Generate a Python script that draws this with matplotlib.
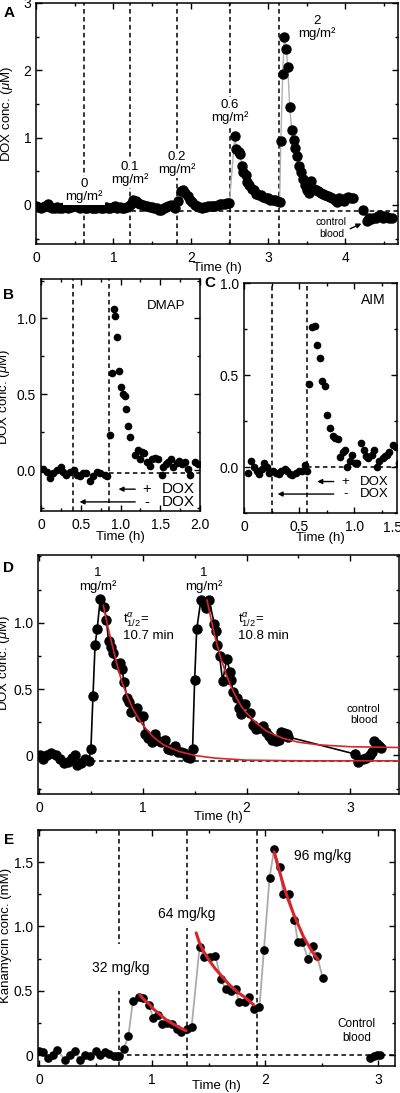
import matplotlib.pyplot as plt
from matplotlib.ticker import MultipleLocator

plt.rcParams['font.family'] = ['Liberation Sans', 'DejaVu Sans']
plt.rcParams['mathtext.fontset'] = 'custom'
plt.rcParams['mathtext.rm'] = 'Liberation Sans'
plt.rcParams['mathtext.it'] = 'Liberation Sans:italic'

# ---------------- panel A : DOX, escalating doses ----------------
a_t = [0.00, 0.03, 0.06, 0.09, 0.12, 0.15, 0.18, 0.21, 0.24, 0.27, 0.30, 0.33, 0.36, 0.39,
       0.42, 0.45, 0.48, 0.51, 0.54, 0.57, 0.60, 0.63, 0.66, 0.69, 0.72, 0.75, 0.78, 0.81,
       0.84, 0.87, 0.90, 0.93, 0.96, 0.99, 1.02, 1.05, 1.08, 1.11, 1.14, 1.17,
       1.20, 1.23, 1.26, 1.29, 1.32, 1.35, 1.38, 1.41, 1.44, 1.47, 1.50, 1.53, 1.56, 1.59,
       1.62, 1.65, 1.68, 1.71, 1.74, 1.77, 1.80,
       1.84, 1.87, 1.90, 1.93, 1.96, 1.99, 2.02, 2.05, 2.08, 2.11, 2.14, 2.17, 2.20, 2.23,
       2.26, 2.29, 2.32, 2.35, 2.38, 2.41, 2.44, 2.47, 2.50,
       2.57, 2.59, 2.62, 2.64, 2.66, 2.68, 2.71, 2.73, 2.76, 2.79, 2.82, 2.85, 2.88, 2.91,
       2.94, 2.97, 3.00, 3.03, 3.06, 3.09, 3.12, 3.15,
       3.165, 3.19, 3.21, 3.235, 3.255, 3.28, 3.305, 3.33, 3.35, 3.375, 3.40, 3.43, 3.45,
       3.48, 3.50, 3.53, 3.56, 3.59, 3.62, 3.65, 3.68, 3.71, 3.74, 3.77, 3.80, 3.83, 3.86,
       3.89, 3.92, 3.95, 3.98, 4.01, 4.04, 4.07, 4.10]
a_y = [-0.02, -0.03, -0.04, -0.03, -0.02, 0.01, -0.03, -0.05, -0.04, -0.03, -0.05, -0.04, -0.03, -0.02,
       -0.04, -0.03, -0.01, 0.00, -0.03, -0.04, -0.02, -0.04, -0.05, -0.03, -0.04, -0.05, -0.04, -0.03,
       -0.05, -0.04, -0.03, -0.04, -0.05, -0.03, -0.02, -0.04, -0.03, -0.04, -0.05, -0.03,
       -0.02, 0.02, 0.07, 0.06, 0.03, 0.01, 0.00, -0.01, -0.02, -0.03, -0.03, -0.04, -0.05, -0.07,
       -0.08, -0.05, -0.03, -0.02, 0.00, -0.02, -0.04,
       0.06, 0.20, 0.22, 0.18, 0.13, 0.08, 0.04, 0.00, -0.02, -0.03, -0.04, -0.03, -0.03, -0.02,
       -0.02, -0.01, -0.01, 0.00, 0.01, 0.01, 0.02, 0.03, 0.03,
       1.02, 0.83, 0.79, 0.76, 0.58, 0.49, 0.44, 0.34, 0.29, 0.24, 0.22, 0.17, 0.15, 0.15,
       0.12, 0.11, 0.10, 0.08, 0.07, 0.07, 0.06, 0.05,
       0.95, 1.95, 2.50, 2.31, 2.05, 1.45, 1.12, 0.96, 0.85, 0.72, 0.58, 0.49, 0.39,
       0.29, 0.22, 0.18, 0.36, 0.24, 0.22, 0.20, 0.18, 0.17, 0.15, 0.14, 0.12, 0.10, 0.08,
       0.05, 0.11, 0.08, 0.06, 0.10, 0.12, 0.11, 0.11]
a_ctrl_t = [4.23, 4.28, 4.30, 4.33, 4.36, 4.39, 4.42, 4.45, 4.48, 4.51, 4.54, 4.57, 4.60]
a_ctrl_y = [-0.08, -0.24, -0.19, -0.21, -0.19, -0.20, -0.17, -0.15, -0.19, -0.17, -0.18, -0.19, -0.19]
a_dose_t = [0.62, 1.21, 1.82, 2.51, 3.14]
a_baseline = -0.09

# ---------------- panel B : DMAP ----------------
b_t = [0.02, 0.07, 0.11, 0.155, 0.20, 0.25, 0.28, 0.32, 0.36, 0.41, 0.45, 0.49, 0.53, 0.57,
       0.62, 0.66, 0.70, 0.74, 0.80, 0.83,
       0.868, 0.889, 0.92, 0.935, 0.95, 0.985, 1.006, 1.035, 1.06, 1.07, 1.10, 1.12,
       1.18, 1.22, 1.24, 1.27, 1.29, 1.33, 1.37, 1.39, 1.43, 1.47, 1.52, 1.54, 1.57, 1.60,
       1.63, 1.66, 1.71, 1.74, 1.77, 1.81, 1.85, 1.88, 1.94, 1.98]
b_y = [0.01, -0.01, -0.05, -0.02, 0.00, 0.02, -0.01, -0.03, -0.01, 0.00, -0.03, -0.04, -0.02, -0.02,
       -0.07, -0.04, -0.01, -0.02, -0.03, -0.04,
       0.23, 0.64, 1.06, 1.015, 0.88, 0.65, 0.55, 0.50, 0.49, 0.40, 0.29, 0.22,
       0.10, 0.13, 0.07, 0.12, 0.11, 0.05, 0.03, 0.07, 0.08, 0.07, -0.03, 0.02, 0.04, 0.05,
       0.07, 0.02, 0.045, 0.06, 0.04, 0.05, 0.01, -0.03, 0.05, 0.04]
b_lines_t = [0.40, 0.86]

# ---------------- panel C : AIM ----------------
c_t = [0.04, 0.065, 0.09, 0.115, 0.14, 0.16, 0.185, 0.21, 0.23, 0.26, 0.29, 0.32, 0.34, 0.37,
       0.39, 0.42, 0.44, 0.47, 0.50, 0.53, 0.555, 0.575,
       0.594, 0.615, 0.645, 0.667, 0.69, 0.71, 0.735, 0.757, 0.78, 0.806, 0.827, 0.85,
       0.87, 0.90, 0.92, 0.94, 0.96, 0.985, 1.01, 1.03, 1.06, 1.09, 1.11, 1.13, 1.16, 1.18,
       1.21, 1.23, 1.26, 1.28, 1.30, 1.32, 1.35, 1.38, 1.41]
c_y = [-0.034, 0.03, 0.00, -0.02, -0.04, -0.01, 0.02, 0.00, -0.03, -0.02, -0.03, -0.04, -0.02, -0.01,
       -0.02, -0.04, -0.045, -0.03, -0.02, -0.02, 0.01, -0.02,
       0.45, 0.76, 0.765, 0.665, 0.59, 0.47, 0.44, 0.28, 0.21, 0.17, 0.16, 0.15,
       0.055, 0.08, 0.09, 0.00, 0.03, 0.065, 0.02, 0.02, 0.13, 0.09, 0.06, 0.05, 0.065, 0.09,
       0.00, 0.03, 0.05, 0.06, 0.065, 0.08, 0.12, 0.11, 0.02]
c_lines_t = [0.25, 0.57]

# ---------------- panel D : two 1 mg/m2 doses ----------------
d_t = [0.01, 0.04, 0.08, 0.12, 0.16, 0.20, 0.24, 0.28, 0.32, 0.35, 0.37, 0.40, 0.44, 0.48,
       0.50, 0.52, 0.54, 0.56, 0.59, 0.63, 0.65, 0.67, 0.69, 0.71, 0.74, 0.78, 0.80, 0.82,
       0.85, 0.87, 0.89, 0.92, 0.94, 0.97, 1.00, 1.02, 1.05, 1.09, 1.12, 1.14, 1.18, 1.21,
       1.24, 1.27, 1.31, 1.34, 1.37, 1.40, 1.43, 1.46,
       1.48, 1.50, 1.52, 1.56, 1.59, 1.61, 1.64, 1.69, 1.71, 1.72, 1.74, 1.77, 1.81, 1.84,
       1.85, 1.87, 1.91, 1.93, 1.95, 1.96, 1.99, 2.03, 2.06, 2.09, 2.13, 2.16, 2.19, 2.22,
       2.25, 2.28, 2.31, 2.33, 2.36, 2.39, 2.40,
       3.05, 3.07, 3.12, 3.15, 3.19, 3.21, 3.23, 3.26, 3.28, 3.30]
d_y = [0.00, -0.03, 0.00, 0.02, 0.00, -0.03, -0.06, -0.05, -0.02, 0.00, -0.07, -0.06, -0.03, -0.04,
       0.05, 0.45, 0.83, 0.95, 1.18, 1.12, 1.02, 0.86, 0.82, 0.77, 0.69, 0.70, 0.65, 0.55,
       0.43, 0.40, 0.33, 0.35, 0.36, 0.29, 0.30, 0.16, 0.13, 0.10, 0.16, 0.12, 0.10, 0.12,
       0.05, 0.04, 0.07, 0.03, 0.03, 0.02, -0.01, -0.02,
       0.05, 0.57, 0.95, 1.17, 1.15, 1.11, 1.17, 0.99, 0.94, 0.83, 0.75, 0.56, 0.73, 0.63,
       0.57, 0.48, 0.43, 0.36, 0.31, 0.39, 0.39, 0.32, 0.23, 0.20, 0.21, 0.22, 0.18, 0.15,
       0.12, 0.11, 0.12, 0.18, 0.17, 0.16, 0.14,
       0.01, -0.05, -0.03, -0.02, 0.00, 0.03, 0.11, 0.09, 0.07, 0.06]
# fitted decays
d_fit1_t = [0.62, 0.66, 0.70, 0.75, 0.80, 0.85, 0.90, 0.95, 1.00, 1.10, 1.20, 1.35, 1.50,
            1.70, 2.00, 2.50, 3.00, 3.48]
d_fit1_y = [1.13, 0.98, 0.85, 0.69, 0.55, 0.45, 0.36, 0.29, 0.23, 0.14, 0.08, 0.03, 0.00,
            -0.02, -0.035, -0.04, -0.04, -0.04]
d_fit2_t = [1.62, 1.66, 1.70, 1.75, 1.80, 1.85, 1.90, 1.95, 2.00, 2.10, 2.20, 2.35, 2.50,
            2.70, 3.00, 3.48]
d_fit2_y = [1.17, 1.02, 0.88, 0.74, 0.62, 0.52, 0.44, 0.37, 0.32, 0.24, 0.18, 0.13, 0.10,
            0.08, 0.066, 0.06]
d_baseline = -0.04

# ---------------- panel E : kanamycin ----------------
e_t = [0.003, 0.038, 0.08, 0.12, 0.16, 0.23, 0.27, 0.32, 0.36, 0.41, 0.45, 0.50, 0.54, 0.58,
       0.62, 0.66, 0.69, 0.71, 0.75, 0.79, 0.83, 0.88, 0.92, 0.97, 1.01, 1.05, 1.09, 1.13,
       1.18, 1.22, 1.26, 1.31, 1.35,
       1.42, 1.46, 1.51, 1.56, 1.61, 1.65, 1.70, 1.74, 1.77, 1.82, 1.86, 1.90, 1.95,
       1.99, 2.04, 2.08, 2.13, 2.16, 2.21, 2.26, 2.29, 2.33, 2.38, 2.42, 2.46, 2.51]
e_y = [0.03, 0.02, -0.02, 0.00, 0.04, -0.04, 0.00, 0.03, -0.04, 0.00, -0.01, 0.03, 0.00, 0.02,
       0.01, -0.01, -0.01, -0.01, 0.05, 0.15, 0.42, 0.45, 0.44, 0.39, 0.29, 0.31, 0.24, 0.25,
       0.24, 0.20, 0.18, 0.20, 0.22,
       0.84, 0.76, 0.76, 0.77, 0.59, 0.51, 0.50, 0.51, 0.41, 0.41, 0.45, 0.36, 0.37,
       0.82, 1.38, 1.60, 1.46, 1.25, 1.25, 1.05, 0.88, 0.88, 0.75, 0.85, 0.77, 0.60]
e_ctrl_t = [2.93, 2.96, 2.99, 3.02]
e_ctrl_y = [-0.02, -0.01, 0.00, 0.00]
e_fit1_t = [0.89, 0.93, 0.97, 1.01, 1.05, 1.09, 1.13, 1.17, 1.21, 1.25, 1.30]
e_fit1_y = [0.47, 0.43, 0.40, 0.36, 0.33, 0.30, 0.27, 0.25, 0.23, 0.21, 0.19]
e_fit2_t = [1.39, 1.42, 1.46, 1.51, 1.56, 1.60, 1.64, 1.68, 1.73, 1.77, 1.82, 1.86, 1.90]
e_fit2_y = [0.95, 0.87, 0.80, 0.73, 0.67, 0.63, 0.59, 0.55, 0.51, 0.48, 0.45, 0.42, 0.39]
e_fit3_t = [2.08, 2.11, 2.14, 2.17, 2.20, 2.23, 2.26, 2.30, 2.34, 2.38, 2.42, 2.47]
e_fit3_y = [1.58, 1.48, 1.39, 1.30, 1.22, 1.15, 1.08, 1.00, 0.92, 0.86, 0.80, 0.74]
e_dose_t = [0.71, 1.31, 1.93]

RED = '#d8252c'
DASH = (0, (3, 2.2))

fig = plt.figure(figsize=(4, 10.93), dpi=100)
W, H = 400.0, 1093.0


def box(l, t, r, b):
    return fig.add_axes([l / W, 1 - b / H, (r - l) / W, (b - t) / H])


def style(ax, xmaj, xmin, ymaj, ymin):
    ax.xaxis.set_major_locator(MultipleLocator(xmaj))
    ax.xaxis.set_minor_locator(MultipleLocator(xmin))
    ax.yaxis.set_major_locator(MultipleLocator(ymaj))
    ax.yaxis.set_minor_locator(MultipleLocator(ymin))
    ax.tick_params(which='both', direction='in', top=True, right=True, labelsize=10)
    ax.tick_params(which='major', length=4.5, width=1.0)
    ax.tick_params(which='minor', length=2.5, width=1.0)
    ax.tick_params(axis='x', pad=5)
    for s in ax.spines.values():
        s.set_linewidth(1.1)


def arrow(ax, tail, tip, y):
    ax.annotate('', xy=(tip, y), xytext=(tail, y),
                arrowprops=dict(arrowstyle='-|>', color='k', lw=1.0, mutation_scale=7))


wbox = dict(facecolor='white', edgecolor='none', pad=1.5)

# ---- A
ax = box(36, 3, 398, 244)
ax.set_xlim(0, 4.68)
ax.set_ylim(-0.58, 3.0)
style(ax, 1, 0.5, 1, 0.5)
for x in a_dose_t:
    ax.axvline(x, color='k', ls=DASH, lw=1.1, zorder=1)
ax.axhline(a_baseline, color='k', ls=DASH, lw=1.1, zorder=1)
ax.plot(a_t, a_y, color='#b0b0b0', lw=1.0, zorder=2)
ax.plot(a_t, a_y, 'o', color='k', ms=6.5, zorder=3)
ax.plot(a_ctrl_t, a_ctrl_y, color='#b0b0b0', lw=1.0, zorder=2)
ax.plot(a_ctrl_t, a_ctrl_y, 'o', color='k', ms=6.5, zorder=3)
for x, y, s in [(0.62, 0.22, '0\nmg/m²'), (1.21, 0.47, '0.1\nmg/m²'),
                (1.82, 0.61, '0.2\nmg/m²'), (2.51, 1.39, '0.6\nmg/m²')]:
    ax.text(x, y, s, ha='center', va='center', fontsize=9.5, linespacing=1.0,
            bbox=wbox, zorder=4)
ax.text(3.63, 2.64, '2\nmg/m²', ha='center', va='center', fontsize=9.5, linespacing=1.0)
ax.text(3.82, -0.34, 'control\nblood', ha='center', va='center', fontsize=7.5,
        linespacing=1.2)
ax.annotate('', xy=(4.24, -0.26), xytext=(4.03, -0.37),
            arrowprops=dict(arrowstyle='-|>', color='k', lw=1.0, mutation_scale=7))
ax.set_xlabel('Time (h)', fontsize=9.5)
ax.xaxis.set_label_coords(0.5, -0.075)
ax.set_ylabel(r'DOX conc. ($\mu$M)', fontsize=9.5)
ax.yaxis.set_label_coords(-0.058, 0.54)

# ---- B
ax = box(41, 279, 200, 511)
ax.set_xlim(0, 2.0)
ax.set_ylim(-0.27, 1.26)
style(ax, 0.5, 0.25, 0.5, 0.25)
ax.set_xticks([0, 0.5, 1.0, 1.5, 2.0], ['0', '0.5', '1.0', '1.5', '2.0'])
ax.set_yticks([0, 0.5, 1.0], ['0.0', '0.5', '1.0'])
for x in b_lines_t:
    ax.axvline(x, color='k', ls=DASH, lw=1.1, zorder=1)
ax.hlines(-0.02, b_lines_t[1], 2.0, color='k', ls=DASH, lw=1.1, zorder=1)
ax.plot(b_t, b_y, 'o', color='k', ms=4.5, zorder=3)
ax.text(1.57, 1.08, 'DMAP', ha='center', va='center', fontsize=9.5)
arrow(ax, 1.22, 0.94, -0.126)
arrow(ax, 1.22, 0.45, -0.21)
ax.text(1.33, -0.126, '+', ha='center', va='center', fontsize=10.5)
ax.text(1.33, -0.21, '-', ha='center', va='center', fontsize=10.5)
ax.text(1.52, -0.126, 'DOX', ha='left', va='center', fontsize=11)
ax.text(1.52, -0.21, 'DOX', ha='left', va='center', fontsize=11)
ax.set_xlabel('Time (h)', fontsize=9.5)
ax.xaxis.set_label_coords(0.5, -0.086)
ax.set_ylabel(r'DOX conc. ($\mu$M)', fontsize=9.5)
ax.yaxis.set_label_coords(-0.18, 0.49)

# ---- C
ax = box(244, 283, 397, 513)
ax.set_xlim(0, 1.39)
ax.set_ylim(-0.25, 1.0)
style(ax, 0.5, 0.25, 0.5, 0.25)
ax.set_xticks([0, 0.5, 1.0], ['0', '0.5', '1.0'])
ax.set_yticks([0, 0.5, 1.0], ['0.0', '0.5', '1.0'])
ax.annotate('1.5', xy=(1.35, 0), xycoords=('data', 'axes fraction'), xytext=(0, -5.5),
            textcoords='offset points', ha='center', va='top', fontsize=10)
for x in c_lines_t:
    ax.axvline(x, color='k', ls=DASH, lw=1.1, zorder=1)
ax.hlines(0.0, c_lines_t[1], 1.39, color='k', ls=DASH, lw=1.1, zorder=1)
ax.plot(c_t, c_y, 'o', color='k', ms=4.5, zorder=3)
ax.text(1.17, 0.91, 'AIM', ha='center', va='center', fontsize=10)
arrow(ax, 0.84, 0.64, -0.079)
arrow(ax, 0.84, 0.28, -0.147)
ax.text(0.92, -0.079, '+', ha='center', va='center', fontsize=9.5)
ax.text(0.92, -0.147, '-', ha='center', va='center', fontsize=9.5)
ax.text(1.05, -0.079, 'DOX', ha='left', va='center', fontsize=9.5)
ax.text(1.05, -0.147, 'DOX', ha='left', va='center', fontsize=9.5)
ax.set_xlabel('Time (h)', fontsize=9.5)
ax.xaxis.set_label_coords(0.5, -0.083)

# ---- D
ax = box(38, 555, 399, 794)
ax.set_xlim(-0.01, 3.47)
ax.set_ylim(-0.29, 1.51)
style(ax, 1, 0.5, 0.5, 0.25)
ax.set_yticks([0, 0.5, 1.0], ['0', '0.5', '1.0'])
ax.hlines(d_baseline, 0.5, 3.47, color='k', ls=DASH, lw=1.1, zorder=1)
ax.plot(d_t, d_y, '-o', color='k', lw=1.2, ms=6.5, zorder=3)
ax.plot(d_fit1_t, d_fit1_y, color=RED, lw=1.2, zorder=4)
ax.plot(d_fit2_t, d_fit2_y, color=RED, lw=1.2, zorder=4)
ax.text(0.57, 1.32, '1\nmg/m²', ha='center', va='center', fontsize=9.5, linespacing=1.1)
ax.text(1.59, 1.32, '1\nmg/m²', ha='center', va='center', fontsize=9.5, linespacing=1.1)
ax.text(0.81, 0.97, 't$^{\\alpha}_{1/2}$=\n10.7 min', ha='left', va='center', fontsize=9.5,
        linespacing=1.1)
ax.text(1.92, 0.97, 't$^{\\alpha}_{1/2}$=\n10.8 min', ha='left', va='center', fontsize=9.5,
        linespacing=1.1)
ax.text(3.13, 0.31, 'control\nblood', ha='center', va='center', fontsize=8, linespacing=1.2)
ax.set_xlabel('Time (h)', fontsize=9.5)
ax.xaxis.set_label_coords(0.5, -0.071)
ax.set_ylabel(r'DOX conc. ($\mu$M)', fontsize=9.5)
ax.yaxis.set_label_coords(-0.072, 0.55)

# ---- E
ax = box(38, 830, 395, 1066)
ax.set_xlim(-0.01, 3.15)
ax.set_ylim(-0.085, 1.75)
style(ax, 1, 0.5, 0.5, 0.25)
ax.set_yticks([0, 0.5, 1.0, 1.5], ['0', '0.5', '1.0', '1.5'])
for x in e_dose_t:
    ax.axvline(x, color='k', ls=DASH, lw=1.1, zorder=1)
ax.hlines(0.0, e_dose_t[0], 3.15, color='k', ls=DASH, lw=1.1, zorder=1)
ax.plot(e_t, e_y, color='#ababab', lw=1.3, zorder=2)
ax.plot(e_t, e_y, 'o', color='k', ms=5.2, zorder=3)
ax.plot(e_ctrl_t, e_ctrl_y, color='#ababab', lw=1.3, zorder=2)
ax.plot(e_ctrl_t, e_ctrl_y, 'o', color='k', ms=5.2, zorder=3)
for ft, fy in [(e_fit1_t, e_fit1_y), (e_fit2_t, e_fit2_y), (e_fit3_t, e_fit3_y)]:
    ax.plot(ft, fy, color=RED, lw=2.2, zorder=4, solid_capstyle='round')
ax.text(0.72, 0.68, '32 mg/kg', ha='center', va='center', fontsize=10,
        bbox=dict(facecolor='white', edgecolor='none', pad=12), zorder=5)
ax.text(1.305, 1.10, '64 mg/kg', ha='center', va='center', fontsize=10,
        bbox=dict(facecolor='white', edgecolor='none', pad=5), zorder=5)
ax.text(2.51, 1.55, '96 mg/kg', ha='center', va='center', fontsize=10)
ax.text(2.81, 0.19, 'Control\nblood', ha='center', va='center', fontsize=8.5, linespacing=1.2)
ax.set_xlabel('Time (h)', fontsize=9.5)
ax.xaxis.set_label_coords(0.5, -0.06)
ax.set_ylabel('Kanamycin conc. (mM)', fontsize=9.5)
ax.yaxis.set_label_coords(-0.073, 0.555)

for x, y, s in [(4, 13, 'A'), (3, 295, 'B'), (204, 283, 'C'), (3, 568, 'D'), (4, 840, 'E')]:
    fig.text(x / W, 1 - y / H, s, fontsize=11, weight='bold', ha='left', va='center')

fig.savefig('out.png', dpi=100)
